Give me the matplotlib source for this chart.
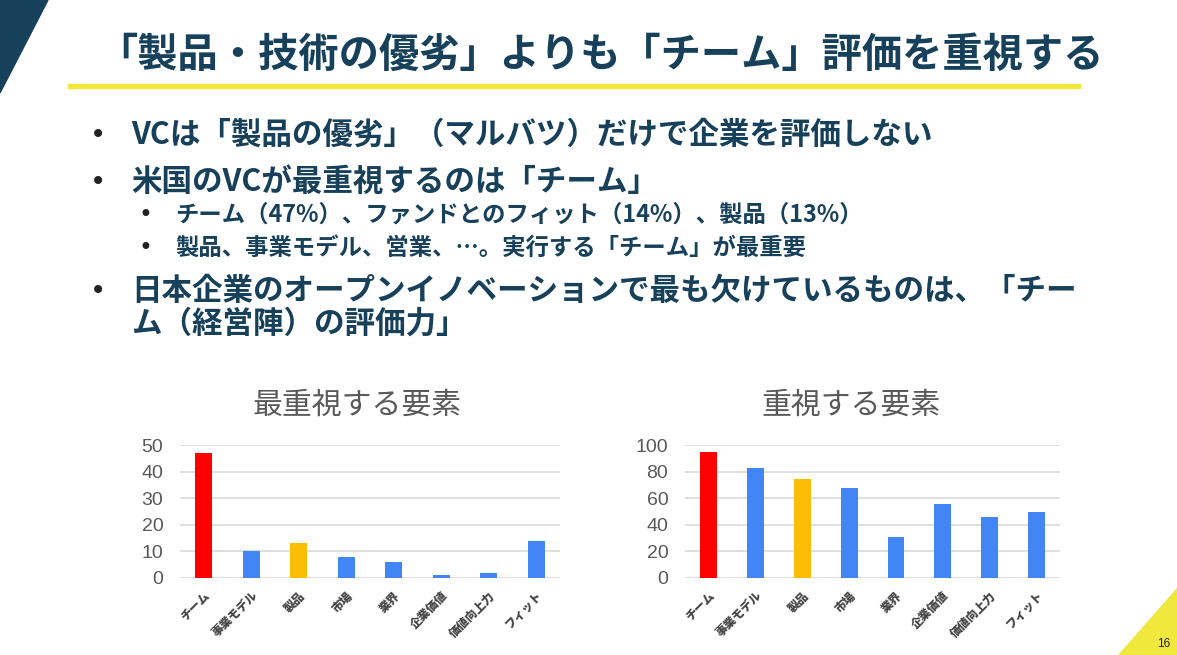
import matplotlib.pyplot as plt
from matplotlib.patches import Polygon

plt.rcParams['font.family'] = ['Noto Sans CJK JP', 'DejaVu Sans']

W, H = 1177, 655

# chart data
categories = ['チーム', '事業モデル', '製品', '市場', '業界', '企業価値', '価値向上力', 'フィット']
most_important = [47, 10, 13, 8, 6, 1, 2, 14]
important = [95, 83, 74.5, 68, 31, 56, 46, 50]
bar_colors = ['#ff0000', '#4285f4', '#fbbc04', '#4285f4', '#4285f4', '#4285f4', '#4285f4', '#4285f4']

title = '「製品・技術の優劣」よりも「チーム」評価を重視する'
bullets = [
    'VCは「製品の優劣」（マルバツ）だけで企業を評価しない',
    '米国のVCが最重視するのは「チーム」',
]
sub_bullets = [
    'チーム（47%）、ファンドとのフィット（14%）、製品（13%）',
    '製品、事業モデル、営業、…。実行する「チーム」が最重要',
]
last_bullet = ['日本企業のオープンイノベーションで最も欠けているものは、「チー',
               'ム（経営陣）の評価力」']

navy = '#17405a'


def fx(x):
    return x / W


def fy(y):
    return 1 - y / H


fig = plt.figure(figsize=(W / 100, H / 100), dpi=100)

# decorations
fig.patches.append(Polygon([(fx(0), fy(0)), (fx(48), fy(0)), (fx(0), fy(93))],
                           closed=True, transform=fig.transFigure, color=navy))
fig.patches.append(Polygon([(fx(W), fy(588)), (fx(W), fy(H)), (fx(1118), fy(H))],
                           closed=True, transform=fig.transFigure, color='#f0e83c'))
fig.patches.append(plt.Rectangle((fx(68), fy(88)), fx(1012), 4 / H,
                                 transform=fig.transFigure, color='#f0e83c'))
fig.text(fx(1164), fy(644), '16', fontsize=8.5, ha='center', va='center',
         family=['Liberation Sans'], color='#222222')

# title
fig.text(fx(600), fy(55), title, fontsize=29, fontweight='bold', color=navy,
         ha='center', va='center')

# bullet text
def bullet(y, text, size, bx, tx, sym_size):
    fig.text(fx(bx), fy(y), '•', fontsize=sym_size, color='#222222',
             ha='center', va='center', family=['DejaVu Sans'])
    fig.text(fx(tx), fy(y), text, fontsize=size, fontweight='bold', color=navy,
             ha='left', va='center')

bullet(135, bullets[0], 22, 98, 131, 20)
bullet(182, bullets[1], 22, 98, 131, 20)
bullet(215, sub_bullets[0], 16.8, 145, 175, 17)
bullet(248, sub_bullets[1], 16.8, 145, 175, 17)
bullet(291, last_bullet[0], 22, 98, 131, 20)
fig.text(fx(131), fy(324), last_bullet[1], fontsize=22, fontweight='bold',
         color=navy, ha='left', va='center')


def draw_chart(left, right, values, ymax, step, name, cx):
    ax = fig.add_axes([fx(left), fy(578), fx(right - left), 133 / H])
    x = range(len(categories))
    ax.bar(x, values, width=0.36, color=bar_colors, zorder=3)
    ax.set_xlim(-0.5, len(categories) - 0.5)
    ax.set_ylim(0, ymax)
    ax.set_yticks(range(0, ymax + 1, step))
    ax.grid(axis='y', color='#d9d9d9', linewidth=1.2, zorder=0)
    for s in ax.spines.values():
        s.set_visible(False)
    ax.tick_params(axis='both', length=0)
    ax.tick_params(axis='y', pad=12, labelsize=14, labelcolor='#595959')
    for lab in ax.get_yticklabels():
        lab.set_family(['Liberation Sans'])
    ax.set_xticks(list(x))
    ax.set_xticklabels(categories, rotation=45, ha='right', rotation_mode='anchor',
                       fontsize=8.5, fontweight='heavy', color='#444444')
    ax.tick_params(axis='x', pad=8)
    fig.text(fx(cx), fy(405), name, fontsize=21.5, color='#595959',
             ha='center', va='center')
    return ax


draw_chart(180, 560, most_important, 50, 10, '最重視する要素', 357)
draw_chart(685, 1060, important, 100, 20, '重視する要素', 851)

fig.savefig('out.png', dpi=100)
